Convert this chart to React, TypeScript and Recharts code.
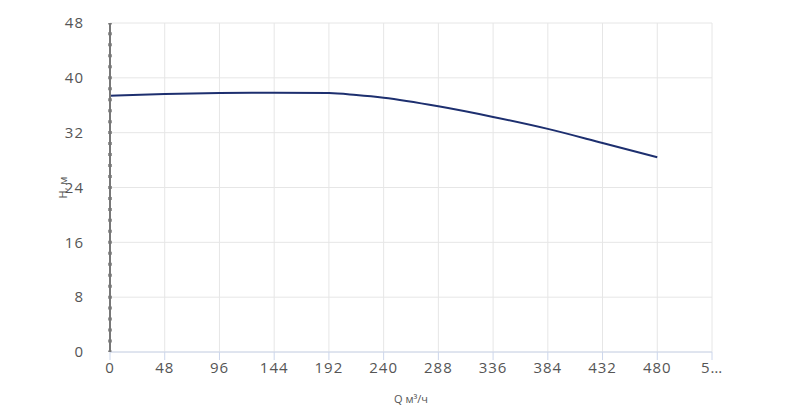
import { LineChart, Line, XAxis, YAxis, CartesianGrid, ReferenceLine } from 'recharts';

const flow = [0, 48, 96, 144, 192, 216, 240, 288, 336, 384, 432, 480];
const head = [37.39, 37.64, 37.79, 37.84, 37.79, 37.5, 37.1, 35.85, 34.3, 32.55, 30.49, 28.4];

const xTicks = [0, 48, 96, 144, 192, 240, 288, 336, 384, 432, 480, 528];
const yTicks = [0, 8, 16, 24, 32, 40, 48];

const data = flow.map((q, i) => ({ q, h: head[i] }));

const font = '"Open Sans", sans-serif';
const tickStyle = { fill: '#555', fontSize: 15, fontFamily: font, letterSpacing: 1 };

export default function App() {
  return (
    <div style={{ position: 'absolute', left: 0, top: 0, background: '#fff' }}>
      <LineChart width={800} height={408} data={data} margin={{ top: 23, right: 88, left: 0, bottom: 0 }}>
        <CartesianGrid stroke="#e6e6e6" strokeWidth={1} />
        <XAxis
          dataKey="q"
          type="number"
          domain={[0, 528]}
          ticks={xTicks}
          interval={0}
          tickFormatter={(v: number) => (v === 528 ? '5…' : String(v))}
          tick={tickStyle}
          axisLine={{ stroke: '#ccd6eb' }}
          tickLine={{ stroke: '#ccd6eb' }}
          tickSize={8}
          tickMargin={2}
          height={56}
          label={{
            value: 'Q м³/ч',
            position: 'insideBottom',
            offset: 5,
            style: { fill: '#555', fontSize: 11, fontFamily: font },
          }}
        />
        <YAxis
          type="number"
          domain={[0, 48]}
          ticks={yTicks}
          interval={0}
          tick={tickStyle}
          axisLine={{ stroke: '#777', strokeWidth: 2 }}
          tickLine={false}
          tickMargin={20}
          width={110}
          label={{
            value: 'H, м',
            angle: -90,
            position: 'center',
            dx: 8,
            style: { fill: '#555', fontSize: 11, fontFamily: font },
          }}
        />
        <ReferenceLine x={0} stroke="#333" strokeWidth={3} strokeDasharray="3 7.97" strokeDashoffset={1.5} />
        <Line
          type="monotone"
          dataKey="h"
          stroke="#1d2f6f"
          strokeWidth={2}
          dot={false}
          isAnimationActive={false}
        />
      </LineChart>
    </div>
  );
}
